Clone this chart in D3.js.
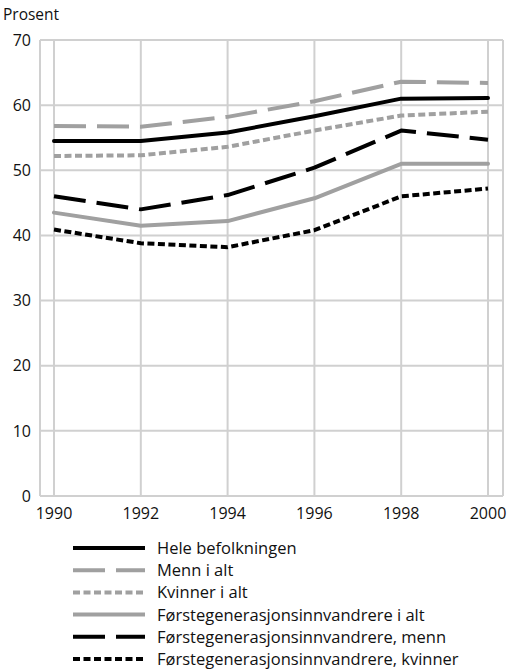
<!DOCTYPE html>
<html>
<head>
<meta charset="utf-8">
<script src="https://cdn.jsdelivr.net/npm/d3@7"></script>
<style>
  body { margin: 0; background: #fff; }
  svg { display: block; font-family: "Open Sans", "DejaVu Sans", sans-serif; }
</style>
</head>
<body>
<div id="chart"></div>
<script>
// andel (prosent) etter år og gruppe
const years = [1990, 1992, 1994, 1996, 1998, 2000];
const yTicks = [0, 10, 20, 30, 40, 50, 60, 70];

const seriesNames = [
    "Hele befolkningen",
    "Menn i alt",
    "Kvinner i alt",
    "Førstegenerasjonsinnvandrere i alt",
    "Førstegenerasjonsinnvandrere, menn",
    "Førstegenerasjonsinnvandrere, kvinner"
];
const heleBefolkningen = [54.5, 54.5, 55.8, 58.3, 61.0, 61.1];
const mennIAlt = [56.8, 56.7, 58.2, 60.6, 63.6, 63.4];
const kvinnerIAlt = [52.2, 52.3, 53.6, 56.1, 58.4, 59.0];
const innvIAlt = [43.5, 41.5, 42.2, 45.7, 51.0, 51.0];
const innvMenn = [46.0, 44.0, 46.2, 50.4, 56.1, 54.7];
const innvKvinner = [40.9, 38.8, 38.2, 40.8, 46.0, 47.2];

const seriesValues = [heleBefolkningen, mennIAlt, kvinnerIAlt, innvIAlt, innvMenn, innvKvinner];
const styles = [
    { color: "#000", dash: null },
    { color: "#a0a0a0", dash: "32,11" },
    { color: "#a0a0a0", dash: "7,3.5" },
    { color: "#a0a0a0", dash: null },
    { color: "#000", dash: "32,11" },
    { color: "#000", dash: "7,3.5" }
];

const svgWidth = 509, svgHeight = 670;
const plot = { left: 40, right: 503, top: 40, bottom: 496 };

const svg = d3.select("#chart").append("svg")
    .attr("width", svgWidth)
    .attr("height", svgHeight);

const x = d3.scaleLinear().domain([1990, 2000]).range([54, 488]);
const y = d3.scaleLinear().domain([0, 70]).range([plot.bottom, plot.top]);

const grid = svg.append("g").attr("stroke", "#d0d0d0").attr("stroke-width", 2);

// horisontale linjer
grid.selectAll(".h").data(yTicks).enter().append("line")
    .attr("x1", plot.left).attr("x2", plot.right)
    .attr("y1", d => y(d)).attr("y2", d => y(d));

// vertikale linjer
grid.selectAll(".v").data(years).enter().append("line")
    .attr("x1", d => x(d)).attr("x2", d => x(d))
    .attr("y1", plot.top).attr("y2", plot.bottom);

// ramme
grid.append("line").attr("x1", plot.left).attr("x2", plot.left).attr("y1", plot.top).attr("y2", plot.bottom);
grid.append("line").attr("x1", plot.right).attr("x2", plot.right).attr("y1", plot.top).attr("y2", plot.bottom);

// akser
svg.selectAll(".ylab").data(yTicks).enter().append("text")
    .attr("x", 31)
    .attr("y", d => y(d))
    .attr("dy", "0.36em")
    .attr("text-anchor", "end")
    .attr("font-size", "16px")
    .attr("fill", "#111")
    .text(d => d);

svg.selectAll(".xlab").data(years).enter().append("text")
    .attr("x", d => x(d))
    .attr("y", 519)
    .attr("text-anchor", "middle")
    .attr("font-size", "16px")
    .attr("fill", "#111")
    .text(d => d);

svg.append("text")
    .attr("x", 3).attr("y", 20)
    .attr("font-size", "15.5px")
    .attr("fill", "#111")
    .text("Prosent");

// linjer
const line = d3.line()
    .x((d, i) => x(years[i]))
    .y(d => y(d));

seriesValues.forEach(function(vals, i) {
    svg.append("path")
        .datum(vals)
        .attr("d", line)
        .attr("fill", "none")
        .attr("stroke", styles[i].color)
        .attr("stroke-width", 4)
        .attr("stroke-dasharray", styles[i].dash)
        .attr("stroke-linejoin", "round")
        .attr("stroke-linecap", styles[i].dash ? "butt" : "round");
});

// tegnforklaring
const legend = svg.append("g").attr("transform", "translate(73,548)");
seriesNames.forEach(function(name, i) {
    const row = legend.append("g").attr("transform", `translate(0,${i * 22.2})`);
    row.append("line")
        .attr("x1", 0).attr("x2", 72)
        .attr("y1", 0).attr("y2", 0)
        .attr("stroke", styles[i].color)
        .attr("stroke-width", 4)
        .attr("stroke-dasharray", styles[i].dash);
    row.append("text")
        .attr("x", 84).attr("y", 0)
        .attr("dy", "0.36em")
        .attr("font-size", "16.5px")
        .attr("fill", "#111")
        .text(name);
});
</script>
</body>
</html>
